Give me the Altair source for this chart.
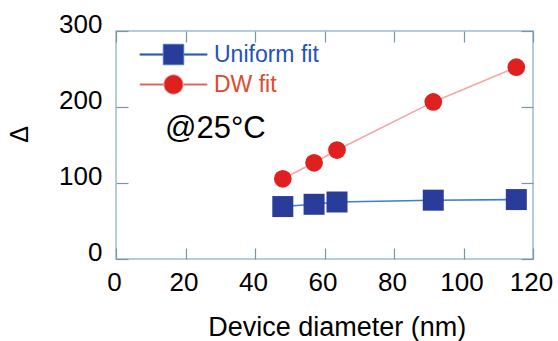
import altair as alt
import pandas as pd

# ---- data ----
series_names = ["Uniform fit", "DW fit"]
diameter_nm = [48.0, 57.0, 63.6, 91.3, 115.2]
uniform_delta = [69.0, 72.0, 75.0, 77.4, 78.2]
dw_delta = [105.5, 126.6, 143.4, 206.7, 252.4]

x_tick_values = [0, 20, 40, 60, 80, 100, 120]
y_tick_values = [0, 100, 200, 300]

annot_text = ["@25°C"]
annot_x = [14.1]
annot_y = [159.6]

# ---- styles ----
marker_colors = ["#2a3c99", "#e0201e"]
line_colors = ["#3d7fd6", "#f4a7a7"]
label_colors = ["#1f52b8", "#e24a2c"]
frame_color = "#9dbdcb"
tick_color = "#7896a6"
FONT = "Liberation Sans"

rows = []
for name, ys in zip(series_names, [uniform_delta, dw_delta]):
    for xv, yv in zip(diameter_nm, ys):
        rows.append({"series": name, "diameter": xv, "delta": yv})
df = pd.DataFrame(rows)

W, H = 417, 228
TXL, TYL = 11, 12  # inward tick lengths

xscale = alt.Scale(domain=[0, 120], nice=False, zero=False)
yscale = alt.Scale(domain=[0, 300], nice=False, zero=False)

# main axes: moved inward by the tick length so that the ticks point into the plot
x_axis = alt.Axis(
    orient="bottom", offset=-TXL, tickSize=TXL, tickColor=tick_color, tickWidth=1.2,
    values=x_tick_values, format="d", domain=False, grid=False,
    labelFont=FONT, labelFontSize=26, labelColor="black", labelPadding=10, labelOffset=-2,
    labelFlush=False, labelOverlap=False,
    title="Device diameter (nm)", titleFont=FONT, titleFontSize=27, titleFontWeight="normal",
    titleColor="black", titleX=220.7, titleY=76 + TXL, titleAlign="center",
    titleBaseline="alphabetic",
)
y_axis = alt.Axis(
    orient="left", offset=-TYL, tickSize=TYL, tickColor=tick_color, tickWidth=1.2,
    values=y_tick_values, format="d", domain=False, grid=False,
    labelFont=FONT, labelFontSize=26, labelColor="black", labelPadding=14, labelOffset=-7,
    labelFlush=False, labelOverlap=False,
    title="Δ", titleFont=FONT, titleFontSize=25, titleFontWeight="normal", titleColor="black",
    titleX=-97 - TYL, titleY=103, titleAngle=270, titleAlign="center", titleBaseline="middle",
)
# mirrored tick-only axes on top and right
x_axis_top = alt.Axis(
    orient="top", offset=-TXL, tickSize=TXL, tickColor=tick_color, tickWidth=1.2,
    values=x_tick_values, labels=False, domain=False, grid=False, title=None,
)
y_axis_right = alt.Axis(
    orient="right", offset=-TYL, tickSize=TYL, tickColor=tick_color, tickWidth=1.2,
    values=y_tick_values, labels=False, domain=False, grid=False, title=None,
)

# legend symbols: marker with a thin line segment through it (filled geometry)
sq_path = ("M-3.2,-0.065H-0.98V0.065H-3.2Z M0.98,-0.065H3.2V0.065H0.98Z "
           "M-0.98,-0.98H0.98V0.98H-0.98Z")
ci_path = ("M-3.2,-0.065H-0.9V0.065H-3.2Z M0.9,-0.065H3.2V0.065H0.9Z "
           "M-0.92,0A0.92,0.92 0 1 1 0.92,0A0.92,0.92 0 1 1 -0.92,0Z")
legend_paths = [sq_path, ci_path]
legend_y = [12, 42]

color_scale = alt.Scale(domain=series_names, range=marker_colors)
stroke_scale = alt.Scale(domain=series_names, range=line_colors)

base = alt.Chart(df)

X = alt.X("diameter:Q", scale=xscale, axis=x_axis)
Y = alt.Y("delta:Q", scale=yscale, axis=y_axis)
Xn = alt.X("diameter:Q", scale=xscale, axis=None)
Yn = alt.Y("delta:Q", scale=yscale, axis=None)

lines = base.mark_line(strokeWidth=1.6).encode(
    x=X, y=Y,
    stroke=alt.Stroke("series:N", scale=stroke_scale, legend=None),
    detail="series:N",
)


def legend_layer(i):
    lg = alt.Legend(
        title=None, orient="none", legendX=46, legendY=legend_y[i], padding=0,
        symbolSize=441, symbolStrokeWidth=0.8, symbolOpacity=1,
        symbolFillColor=marker_colors[i],
        labelFont=FONT, labelFontSize=23, labelOffset=29, labelColor=label_colors[i],
    )
    return base.mark_point(
        filled=True, opacity=1, strokeWidth=0.8, fill=marker_colors[i],
    ).encode(
        x=Xn, y=Yn,
        shape=alt.Shape("series:N",
                        scale=alt.Scale(domain=[series_names[i]], range=[legend_paths[i]]),
                        legend=lg),
        stroke=alt.Stroke("series:N",
                          scale=alt.Scale(domain=[series_names[i]], range=[line_colors[i]]),
                          legend=lg),
    ).transform_filter("false")


squares = base.mark_square(size=441, opacity=1).encode(
    x=Xn, y=Yn,
    color=alt.Color("series:N", scale=color_scale, legend=None),
).transform_filter(alt.datum.series == series_names[0])

circles = base.mark_circle(size=314, opacity=1).encode(
    x=Xn, y=Yn,
    color=alt.Color("series:N", scale=color_scale, legend=None),
).transform_filter(alt.datum.series == series_names[1])

annot = alt.Chart(pd.DataFrame({"label": annot_text, "diameter": annot_x, "delta": annot_y})).mark_text(
    align="left", baseline="alphabetic", font=FONT, fontSize=31, color="black"
).encode(
    x=alt.X("diameter:Q", scale=xscale, axis=x_axis_top),
    y=alt.Y("delta:Q", scale=yscale, axis=y_axis_right),
    text="label:N",
)

chart = alt.layer(
    lines, squares, circles, annot, legend_layer(0), legend_layer(1),
).resolve_scale(
    shape="independent", stroke="independent"
).resolve_axis(
    x="independent", y="independent"
).properties(
    width=W, height=H,
    autosize=alt.AutoSizeParams(type="none"),
    padding={"left": 116, "top": 31, "right": 25, "bottom": 82},
    background="white",
).configure_view(stroke=frame_color, strokeWidth=1.5)

chart.save("out.html", embed_options={"renderer": "svg", "actions": False})
